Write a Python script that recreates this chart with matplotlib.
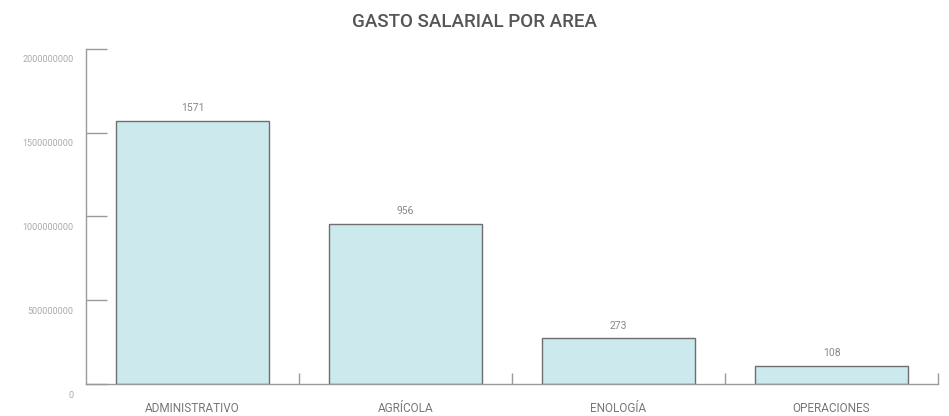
import matplotlib.pyplot as plt
import matplotlib.transforms as mtransforms

# Data (values in pesos, labels in millions)
areas = ["ADMINISTRATIVO", "AGRÍCOLA", "ENOLOGÍA", "OPERACIONES"]
gasto = [1571000000, 956000000, 273000000, 108000000]
etiquetas = ["1571", "956", "273", "108"]
yticks = [0, 500000000, 1000000000, 1500000000, 2000000000]

plt.rcParams["font.family"] = ["Roboto", "DejaVu Sans"]

fig = plt.figure(figsize=(9.49, 4.16), dpi=100)
ax = fig.add_axes([86 / 949, 32 / 416, 852 / 949, 335 / 416])

x = range(len(areas))
bars = ax.bar(x, gasto, width=0.72, color="#cce9ee", edgecolor="#6e6e6e", linewidth=1)

# Value labels above bars
for xi, v, lab in zip(x, gasto, etiquetas):
    ax.annotate(lab, (xi, v), xytext=(0, 5.5), textcoords="offset points",
                ha="center", va="bottom", fontsize=7.5, color="#888888")

ax.set_xlim(-0.5, len(areas) - 0.5)
ax.set_ylim(0, 2000000000)

# Spines
for s in ["top", "right"]:
    ax.spines[s].set_visible(False)
for s in ["left", "bottom"]:
    ax.spines[s].set_color("#9a9a9a")
    ax.spines[s].set_linewidth(1)

# Y ticks: inward, labels shifted down
ax.set_yticks(yticks)
ax.set_yticklabels([str(t) for t in yticks])
ax.tick_params(axis="y", direction="in", length=15, width=1, color="#9a9a9a",
               labelsize=6.5, labelcolor="#aaaaaa", pad=9)
offset = mtransforms.ScaledTranslation(0, -10 / 100, fig.dpi_scale_trans)
for lbl in ax.get_yticklabels():
    lbl.set_transform(lbl.get_transform() + offset)

# X ticks: separators at category boundaries, labels at centers
ax.set_xticks([i + 0.5 for i in x])
ax.set_xticklabels([])
ax.tick_params(axis="x", which="major", direction="in", length=8, width=1, color="#9a9a9a")
ax.set_xticks(list(x), minor=True)
ax.set_xticklabels(areas, minor=True)
ax.tick_params(axis="x", which="minor", length=0, labelsize=8.5, labelcolor="#777777", pad=13)

fig.text(0.5, 0.948, "GASTO SALARIAL POR AREA", ha="center", va="center",
         fontsize=13.5, fontweight="medium", color="#555555")

fig.savefig("out.png", dpi=100)
